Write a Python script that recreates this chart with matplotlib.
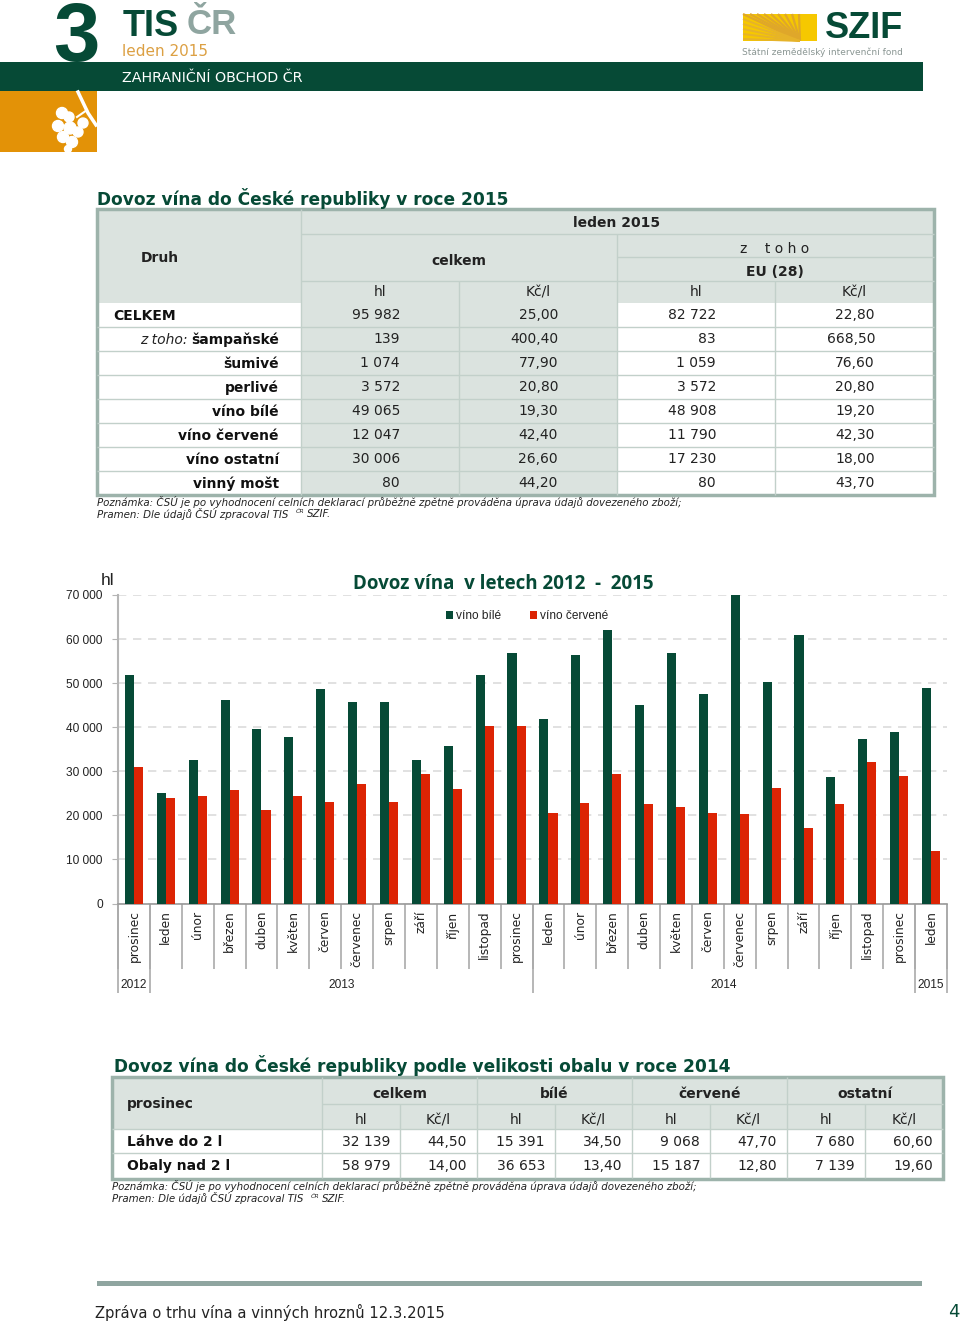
import numpy as np
import matplotlib
matplotlib.use('Agg')
import matplotlib.pyplot as plt
from matplotlib.patches import Rectangle, Circle

# data
months = ['prosinec', 'leden', 'únor', 'březen', 'duben', 'květen', 'červen', 'červenec', 'srpen', 'září',
          'říjen', 'listopad', 'prosinec', 'leden', 'únor', 'březen', 'duben', 'květen', 'červen', 'červenec',
          'srpen', 'září', 'říjen', 'listopad', 'prosinec', 'leden']
vino_bile = [51800, 25000, 32500, 46200, 39500, 37800, 48700, 45800, 45800, 32500, 35700, 51800, 56900,
             41900, 56300, 62000, 45000, 56900, 47500, 70000, 50200, 61000, 28700, 37300, 39000, 48900]
vino_cervene = [31000, 24000, 24400, 25700, 21200, 24400, 23000, 27100, 23000, 29300, 26000, 40200, 40200,
                20600, 22800, 29300, 22500, 22000, 20600, 20300, 26300, 17200, 22500, 32200, 28900, 12000]
years = ['2012', '2013', '2014', '2015']
year_edges = [0, 1, 13, 25, 26]
y_ticks = [0, 10000, 20000, 30000, 40000, 50000, 60000, 70000]
y_labels = ['0', '10 000', '20 000', '30 000', '40 000', '50 000', '60 000', '70 000']

druhy = ['CELKEM', 'šampaňské', 'šumivé', 'perlivé', 'víno bílé', 'víno červené', 'víno ostatní', 'vinný mošt']
celkem_hl = ['95 982', '139', '1 074', '3 572', '49 065', '12 047', '30 006', '80']
celkem_kc = ['25,00', '400,40', '77,90', '20,80', '19,30', '42,40', '26,60', '44,20']
eu_hl = ['82 722', '83', '1 059', '3 572', '48 908', '11 790', '17 230', '80']
eu_kc = ['22,80', '668,50', '76,60', '20,80', '19,20', '42,30', '18,00', '43,70']

obaly = ['Láhve do 2 l', 'Obaly nad 2 l']
obaly_sloupce = ['celkem', 'bílé', 'červené', 'ostatní']
lahve = ['32 139', '44,50', '15 391', '34,50', '9 068', '47,70', '7 680', '60,60']
nad2l = ['58 979', '14,00', '36 653', '13,40', '15 187', '12,80', '7 139', '19,60']

GREEN = '#064a36'
RED = '#dc2404'
HEAD = '#dbe3df'
LINE = '#c2d0ca'
BORDER = '#9db3ab'
NARROW = 'Liberation Sans'
NARROW_SIZE = 8.6

W, H = 960, 1322
fig = plt.figure(figsize=(W / 100, H / 100), dpi=100)

# whole page in pixels, y going down
page = fig.add_axes([0, 0, 1, 1])
page.set_xlim(0, W)
page.set_ylim(H, 0)
page.axis('off')


def box(x0, y0, x1, y1, color, **kw):
    page.add_patch(Rectangle((x0, y0), x1 - x0, y1 - y0, facecolor=color, edgecolor='none', **kw))


def txt(x, y, s, size=10, ha='left', color='#222222', **kw):
    return page.text(x, y, s, fontsize=size, ha=ha, va='center', color=color, **kw)


# header
txt(53, 39, '3', 60, color=GREEN, fontweight='bold', family='Liberation Sans', zorder=1)
box(0, 62, 923, 91, GREEN, zorder=2)
box(0, 91, 97, 152, '#e39207', zorder=2)
txt(123, 27, 'TIS', 26, color=GREEN, fontweight='bold', family='Liberation Sans')
txt(187, 25, 'ČR', 25, color='#8fa5a0', fontweight='bold', family='Liberation Sans')
txt(122, 51, 'leden 2015', 11, color='#dca043')
txt(122, 77.5, 'ZAHRANIČNÍ OBCHOD ČR', 10.3, color='white', zorder=3)

# grapes on the orange square
for cx, cy, r in [(62, 113, 5.5), (69, 117, 5), (58, 126, 5.5), (70, 128, 6), (83, 123, 5),
                  (78, 132, 5), (63, 137, 5.5), (72, 142, 5.5), (68, 149, 3.5)]:
    page.add_patch(Circle((cx, cy), r, color='white', zorder=3))
page.plot([78, 88, 96], [92, 113, 125], color='white', lw=2.5, zorder=3)
page.plot([77, 87], [117, 110], color='white', lw=1.5, zorder=3)

# SZIF logo
box(743, 14, 817, 41, '#f6c800')
for k in range(9):
    page.plot([743 + k * 7, 800], [14, 41], color='#dfa72a', lw=1.6, solid_capstyle='butt')
for k in range(5):
    page.plot([743, 800], [19 + k * 5, 41], color='#e6b32a', lw=1.4, solid_capstyle='butt')
txt(825, 29, 'SZIF', 26, color=GREEN, fontweight='bold', family='Liberation Sans')
txt(742, 52, 'Státní zemědělský intervenční fond', 6.5, color='#8a9693')

# first table
txt(97, 198.5, 'Dovoz vína do České republiky v roce 2015', 12.25, color=GREEN, fontweight='bold')
cols = [97, 301, 459, 617, 775, 934]
row_top = 303
row_h = 24
box(97, 209, 934, 303, HEAD)
box(301, 303, 617, 495, HEAD)
line_c = dict(color=LINE, lw=1, solid_capstyle='butt')
for i in range(1, 8):
    page.plot([97, 934], [row_top + i * row_h] * 2, **line_c)
page.plot([301, 934], [281, 281], **line_c)
page.plot([301, 934], [234, 234], **line_c)
page.plot([617, 934], [257, 257], **line_c)
page.plot([301, 301], [209, 495], **line_c)
page.plot([617, 617], [234, 495], **line_c)
page.plot([459, 459], [281, 495], **line_c)
page.plot([775, 775], [281, 495], **line_c)
page.add_patch(Rectangle((97, 209), 837, 286, fill=False, edgecolor=BORDER, lw=2.5))

txt(617, 223, 'leden 2015', 10, ha='center', fontweight='bold')
txt(160, 257.5, 'Druh', 10, ha='center', fontweight='bold')
txt(459, 261, 'celkem', 10, ha='center', fontweight='bold')
txt(775, 249, 'z    t o h o', 10, ha='center')
txt(775, 272, 'EU (28)', 10, ha='center', fontweight='bold')
for c0, c1, lab in zip(cols[1:-1], cols[2:], ['hl', 'Kč/l', 'hl', 'Kč/l']):
    txt((c0 + c1) / 2, 292.5, lab, 10, ha='center')

for i, d in enumerate(druhy):
    y = row_top + row_h * i + 12
    if i == 0:
        txt(113, y + 1, d, 10, fontweight='bold', color='#111111')
    else:
        txt(279, y + 1, d, 10, ha='right', fontweight='bold', color='#111111')
    if i == 1:
        txt(188, y + 1, 'z toho:', 10, ha='right', fontstyle='italic')
    for c1, vals in zip(cols[2:], [celkem_hl, celkem_kc, eu_hl, eu_kc]):
        txt(c1 - 59, y, vals[i], 10, ha='right')


def notes(x, y):
    txt(x, y, 'Poznámka: ČSÚ je po vyhodnocení celních deklarací průběžně zpětně prováděna úprava údajů dovezeného zboží;',
        7.4, fontstyle='italic')
    txt(x, y + 12.5, 'Pramen: Dle údajů ČSÚ zpracoval TIS', 7.4, fontstyle='italic')
    txt(x + 199, y + 10, 'ČR', 4.5, fontstyle='italic')
    txt(x + 210, y + 12.5, 'SZIF.', 7.4, fontstyle='italic')


notes(97, 501.5)

# bar chart
left, right, top, bottom = 118, 947, 595, 903.5
ax = fig.add_axes([left / W, 1 - bottom / H, (right - left) / W, (bottom - top) / H])
ax.patch.set_alpha(0)
x = np.arange(len(months)) + 0.5
bw = 0.285
ax.bar(x - bw / 2, vino_bile, bw, color=GREEN, label='víno bílé', zorder=3)
ax.bar(x + bw / 2, vino_cervene, bw, color=RED, label='víno červené', zorder=3)
ax.set_xlim(0, len(months))
ax.set_ylim(0, 70000)
ax.set_yticks(y_ticks)
ax.set_yticklabels(y_labels, family=NARROW, fontsize=NARROW_SIZE, color='#222222')
ax.yaxis.grid(True, color='#dcdcdc', linestyle=(0, (5, 4)), lw=1.2, zorder=0)
ax.set_axisbelow(True)
ax.tick_params(axis='y', length=4, color='#b5b5b5', pad=7)
ax.tick_params(axis='x', length=0, labelbottom=False)
for s in ['top', 'right']:
    ax.spines[s].set_visible(False)
ax.spines['left'].set_color('#b5b5b5')
ax.spines['left'].set_linewidth(1.5)
ax.spines['bottom'].set_color('#999999')
ax.spines['bottom'].set_linewidth(1.2)

trans = ax.get_xaxis_transform()
h_px = bottom - top
ax.vlines(np.arange(len(months) + 1), -65 / h_px, 0, transform=trans, color='#aaaaaa', lw=1.2, clip_on=False)
ax.vlines(year_edges, -89 / h_px, 0, transform=trans, color='#aaaaaa', lw=1.2, clip_on=False)
for xi, m in zip(x, months):
    ax.text(xi, -7 / h_px, m, transform=trans, rotation=90, ha='center', va='top', fontsize=8.8, color='#222222')
for y0, y1, lab in zip(year_edges[:-1], year_edges[1:], years):
    ax.text((y0 + y1) / 2, -81.5 / h_px, lab, transform=trans, ha='center', va='center',
            family=NARROW, fontsize=NARROW_SIZE, color='#222222')
ax.legend(loc='center', bbox_to_anchor=((527 - left) / (right - left), 1 - 21 / h_px), ncol=2, frameon=False,
          prop=dict(family=NARROW, size=NARROW_SIZE), handlelength=0.6, handleheight=0.7, handletextpad=0.25,
          columnspacing=2.4, labelcolor='#222222')

txt(101, 580.5, 'hl', 12.5, family=NARROW)
txt(503.5, 584, 'Dovoz vína  v letech 2012  -  2015', 13.5, ha='center', color=GREEN, fontweight='bold',
    family='Open Sans')

# second table
txt(114, 1065, 'Dovoz vína do České republiky podle velikosti obalu v roce 2014', 12.27, color=GREEN, fontweight='bold')
cols2 = [322, 400, 477, 555, 632, 710, 787, 865, 943]
box(112, 1077, 943, 1129, HEAD)
page.plot([322, 943], [1104, 1104], **line_c)
page.plot([112, 943], [1129, 1129], **line_c)
page.plot([112, 943], [1153, 1153], **line_c)
page.plot([322, 322], [1077, 1178], **line_c)
for i, c in enumerate(cols2[1:-1]):
    page.plot([c, c], [1104 if i % 2 == 0 else 1077, 1178], **line_c)
page.add_patch(Rectangle((112, 1077), 831, 101.5, fill=False, edgecolor=BORDER, lw=2.5))

txt(127, 1104, 'prosinec', 10, fontweight='bold')
for k, lab in enumerate(obaly_sloupce):
    txt((cols2[2 * k] + cols2[2 * k + 2]) / 2, 1094, lab, 10, ha='center', fontweight='bold')
    txt((cols2[2 * k] + cols2[2 * k + 1]) / 2, 1120, 'hl', 10, ha='center')
    txt((cols2[2 * k + 1] + cols2[2 * k + 2]) / 2, 1120, 'Kč/l', 10, ha='center')
for y, name, vals in zip([1142, 1166], obaly, [lahve, nad2l]):
    txt(127, y, name, 10, fontweight='bold', color='#111111')
    for c1, v in zip(cols2[1:], vals):
        txt(c1 - 10, y, v, 10, ha='right')
notes(112, 1186)

# footer
box(97, 1281, 922, 1285.5, '#8fa5a0')
txt(95, 1312, 'Zpráva o trhu vína a vinných hroznů 12.3.2015', 10.6)
txt(948, 1312, '4', 13, color=GREEN)

fig.savefig('out.png', dpi=100)
